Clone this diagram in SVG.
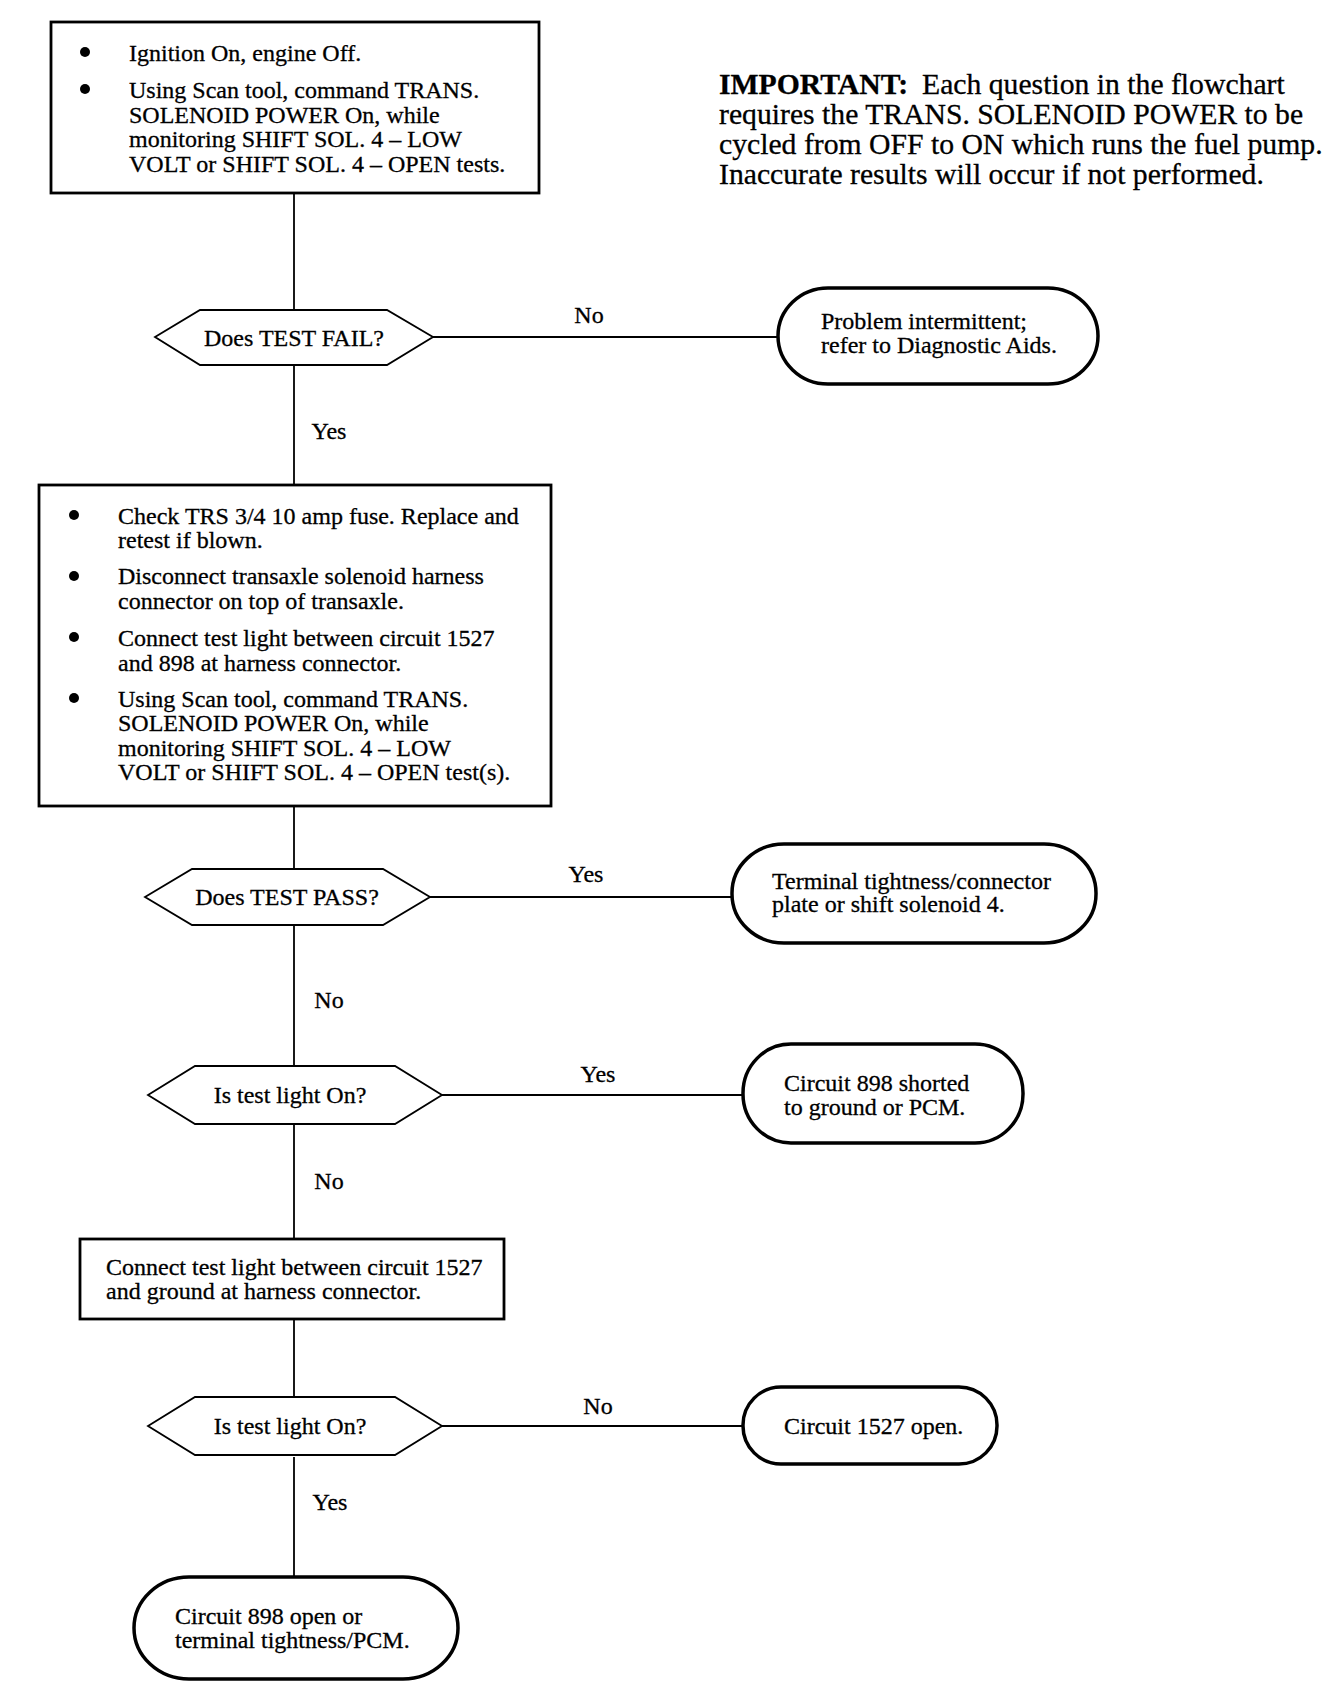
<svg xmlns="http://www.w3.org/2000/svg" width="1344" height="1698" viewBox="0 0 1344 1698">
<style>
text{font-family:"Liberation Serif","Times New Roman",serif;font-size:24px;fill:#000;stroke:#000;stroke-width:0.3}
.imp{font-size:29.7px}
.b{font-weight:bold}
.box{fill:#fff;stroke:#000;stroke-width:2.8}
.hex{fill:#fff;stroke:#000;stroke-width:1.8}
.term{fill:#fff;stroke:#000;stroke-width:3.5}
.c{stroke:#000;stroke-width:1.8;fill:none}
.lab{text-anchor:middle}
.dot{fill:#000}
</style>
<g id="connectors">
<line class="c" x1="294" y1="193" x2="294" y2="310"/>
<line class="c" x1="294" y1="365" x2="294" y2="485"/>
<line class="c" x1="433" y1="337" x2="778" y2="337"/>
<line class="c" x1="294" y1="806" x2="294" y2="869"/>
<line class="c" x1="294" y1="925" x2="294" y2="1066"/>
<line class="c" x1="430" y1="897" x2="732" y2="897"/>
<line class="c" x1="294" y1="1124" x2="294" y2="1239"/>
<line class="c" x1="442" y1="1095" x2="743" y2="1095"/>
<line class="c" x1="294" y1="1319" x2="294" y2="1397"/>
<line class="c" x1="294" y1="1457" x2="294" y2="1577"/>
<line class="c" x1="442" y1="1426" x2="743" y2="1426"/>
<text class="lab" x="589" y="323">No</text>
<text class="lab" x="329" y="439">Yes</text>
<text class="lab" x="586" y="882">Yes</text>
<text class="lab" x="329" y="1008">No</text>
<text class="lab" x="598" y="1082">Yes</text>
<text class="lab" x="329" y="1189">No</text>
<text class="lab" x="598" y="1414">No</text>
<text class="lab" x="330" y="1510">Yes</text>
</g>
<g id="note">
<text class="imp" x="719" y="94"><tspan class="b">IMPORTANT:</tspan><tspan x="922">Each question in the flowchart</tspan></text>
<text class="imp" x="719" y="124">requires the TRANS. SOLENOID POWER to be</text>
<text class="imp" x="719" y="154">cycled from OFF to ON which runs the fuel pump.</text>
<text class="imp" x="719" y="184">Inaccurate results will occur if not performed.</text>
</g>
<g id="box1">
<rect class="box" x="51" y="22" width="488" height="171"/>
<circle class="dot" cx="85" cy="52" r="5"/>
<circle class="dot" cx="85" cy="89" r="5"/>
<text x="129" y="61">Ignition On, engine Off.</text>
<text x="129" y="98">Using Scan tool, command TRANS.</text>
<text x="129" y="122.5">SOLENOID POWER On, while</text>
<text x="129" y="147">monitoring SHIFT SOL. 4 – LOW</text>
<text x="129" y="171.5">VOLT or SHIFT SOL. 4 – OPEN tests.</text>
</g>
<g id="hex1">
<polygon class="hex" points="155,337 200,310 387,310 433,337 387,365 200,365"/>
<text class="lab" x="294" y="346">Does TEST FAIL?</text>
</g>
<g id="term1">
<rect class="term" x="778" y="288" width="320" height="96" rx="50" ry="48"/>
<text x="821" y="328.5">Problem intermittent;</text>
<text x="821" y="352.5">refer to Diagnostic Aids.</text>
</g>
<g id="box2">
<rect class="box" x="39" y="485" width="512" height="321"/>
<circle class="dot" cx="74" cy="515" r="5"/>
<circle class="dot" cx="74" cy="576" r="5"/>
<circle class="dot" cx="74" cy="637" r="5"/>
<circle class="dot" cx="74" cy="698" r="5"/>
<text x="118" y="523.5">Check TRS 3/4 10 amp fuse. Replace and</text>
<text x="118" y="548">retest if blown.</text>
<text x="118" y="584">Disconnect transaxle solenoid harness</text>
<text x="118" y="608.5">connector on top of transaxle.</text>
<text x="118" y="646">Connect test light between circuit 1527</text>
<text x="118" y="670.5">and 898 at harness connector.</text>
<text x="118" y="706.5">Using Scan tool, command TRANS.</text>
<text x="118" y="731">SOLENOID POWER On, while</text>
<text x="118" y="755.5">monitoring SHIFT SOL. 4 – LOW</text>
<text x="118" y="780">VOLT or SHIFT SOL. 4 – OPEN test(s).</text>
</g>
<g id="hex2">
<polygon class="hex" points="145,897 192,869 383,869 430,897 383,925 192,925"/>
<text class="lab" x="287" y="905">Does TEST PASS?</text>
</g>
<g id="term2">
<rect class="term" x="732" y="844" width="364" height="99" rx="52" ry="49"/>
<text x="772" y="888.5">Terminal tightness/connector</text>
<text x="772" y="912">plate or shift solenoid 4.</text>
</g>
<g id="hex3">
<polygon class="hex" points="148,1095 195,1066 395,1066 442,1095 395,1124 195,1124"/>
<text class="lab" x="290" y="1103">Is test light On?</text>
</g>
<g id="term3">
<rect class="term" x="743" y="1044" width="280" height="99" rx="48" ry="49"/>
<text x="784" y="1091">Circuit 898 shorted</text>
<text x="784" y="1115">to ground or PCM.</text>
</g>
<g id="box3">
<rect class="box" x="80" y="1239" width="424" height="80"/>
<text x="106" y="1275">Connect test light between circuit 1527</text>
<text x="106" y="1299">and ground at harness connector.</text>
</g>
<g id="hex4">
<polygon class="hex" points="148,1426 195,1397 395,1397 442,1426 395,1455 195,1455"/>
<text class="lab" x="290" y="1434">Is test light On?</text>
</g>
<g id="term4">
<rect class="term" x="743" y="1387" width="254" height="77" rx="38" ry="38"/>
<text x="784" y="1434">Circuit 1527 open.</text>
</g>
<g id="term5">
<rect class="term" x="134" y="1577" width="324" height="102" rx="55" ry="51"/>
<text x="175" y="1624">Circuit 898 open or</text>
<text x="175" y="1648">terminal tightness/PCM.</text>
</g>
</svg>
